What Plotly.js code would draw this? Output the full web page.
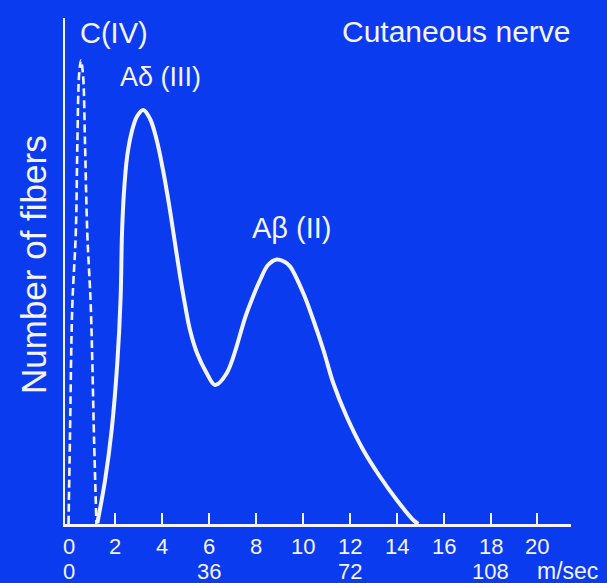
<!DOCTYPE html>
<html>
<head>
<meta charset="utf-8">
<script src="https://cdn.plot.ly/plotly-3.0.1.min.js"></script>
<style>
  html, body { margin: 0; padding: 0; background: #0b3bef; }
  #chart { width: 607px; height: 583px; }
</style>
</head>
<body>
<div id="chart"></div>
<script>
// Fiber diameter (μm) and relative number of fibers (arbitrary units)
const cFiberX = [0, 0.06, 0.16, 0.31, 0.38, 0.45, 0.53, 0.62, 0.70, 0.80, 0.95, 1.09, 1.19];
const cFiberY = [0, 16.8, 43.4, 58.2, 76.8, 89.8, 92.7, 89.8, 76.8, 58.2, 43.4, 16.8, 0];

const aFiberX = [1.23, 1.56, 1.84, 2.08, 2.22, 2.28, 2.36, 2.50, 2.70, 2.92, 3.19, 3.48, 3.76, 4.03, 4.29, 4.52, 4.75, 4.97, 5.18, 5.48, 5.89, 6.25, 6.75, 7.60, 8.17, 8.51, 8.88, 9.23, 9.45, 10.01, 10.44, 10.87, 11.29, 11.86, 12.57, 13.28, 14.00, 14.70, 14.92];
const aFiberY = [0.2, 8.8, 18.8, 32.2, 45.0, 58.0, 66.0, 73.5, 78.5, 81.5, 82.8, 81.0, 76.8, 70.8, 63.8, 56.8, 49.8, 43.8, 38.8, 34.2, 30.2, 27.8, 30.2, 42.2, 48.8, 51.8, 52.9, 52.4, 51.5, 46.2, 40.8, 34.8, 28.2, 21.5, 14.8, 9.5, 4.8, 0.8, 0];

// Axis tick labels
const diamTicks = [2, 4, 6, 8, 10, 12, 14, 16, 18, 20];
const diamLabelVals = [0, 2, 4, 6, 8, 10, 12, 14, 16, 18, 20];
const diamLabelText = ['0', '2', '4', '6', '8', '10', '12', '14', '16', '18', '20'];
const velLabelVals = [0, 6, 12, 18];
const velLabelText = ['0', '36', '72', '108'];

// Curve labels
const curveLabels = ['C(IV)', 'Aδ (III)', 'Aβ (II)', 'Cutaneous nerve'];
const curveLabelX = [1.96, 3.94, 9.52, 16.55];
const curveLabelY = [98.2, 89.4, 59.2, 98.6];
const curveLabelSize = [29, 27, 29, 30];

const FONT = 'Liberation Sans, Arial, sans-serif';
const WHITE = '#f4f4f4';

const traces = [
  {
    x: cFiberX, y: cFiberY, type: 'scatter', mode: 'lines',
    line: { color: WHITE, width: 2.6, dash: '8px,4px', shape: 'spline', smoothing: 1 },
    hoverinfo: 'skip'
  },
  {
    x: aFiberX, y: aFiberY, type: 'scatter', mode: 'lines',
    line: { color: WHITE, width: 4, shape: 'spline', smoothing: 1 },
    hoverinfo: 'skip'
  }
];

const annotations = [];
diamLabelVals.forEach((v, i) => annotations.push({
  x: v, y: 0, xref: 'x', yref: 'paper', yanchor: 'middle', xanchor: 'center',
  yshift: -22, text: diamLabelText[i], showarrow: false,
  font: { family: FONT, size: 22, color: WHITE }
}));
annotations.push({
  x: 22.0, y: 0, xref: 'x', yref: 'paper', yanchor: 'middle', xanchor: 'center',
  yshift: -22, text: 'μm', showarrow: false,
  font: { family: FONT, size: 23, color: WHITE }
});
velLabelVals.forEach((v, i) => annotations.push({
  x: v, y: 0, xref: 'x', yref: 'paper', yanchor: 'middle', xanchor: 'center',
  yshift: -47, text: velLabelText[i], showarrow: false,
  font: { family: FONT, size: 22, color: WHITE }
}));
annotations.push({
  x: 21.28, y: 0, xref: 'x', yref: 'paper', yanchor: 'middle', xanchor: 'center',
  yshift: -47, text: 'm/sec', showarrow: false,
  font: { family: FONT, size: 23, color: WHITE }
});
curveLabels.forEach((t, i) => annotations.push({
  x: curveLabelX[i], y: curveLabelY[i], xref: 'x', yref: 'y',
  xanchor: 'center', yanchor: 'middle', text: t, showarrow: false,
  font: { family: FONT, size: curveLabelSize[i], color: WHITE }
}));
annotations.push({
  x: 0, y: 0.5, xref: 'paper', yref: 'paper', xanchor: 'center', yanchor: 'middle',
  xshift: -32, yshift: 6, textangle: -90, text: 'Number of fibers', showarrow: false,
  font: { family: FONT, size: 35, color: WHITE }
});

const layout = {
  width: 607, height: 583,
  margin: { l: 65, r: 36, t: 18, b: 59 },
  paper_bgcolor: '#0b3bef',
  plot_bgcolor: '#0b3bef',
  showlegend: false,
  xaxis: {
    range: [-0.15, 21.43], showgrid: false, zeroline: false,
    showline: true, linecolor: WHITE, linewidth: 3,
    tickmode: 'array', tickvals: diamTicks, ticks: 'inside', ticklen: 11,
    tickwidth: 2, tickcolor: WHITE, showticklabels: false, fixedrange: true
  },
  yaxis: {
    range: [0, 101.2], showgrid: false, zeroline: false,
    showline: true, linecolor: WHITE, linewidth: 2,
    ticks: '', showticklabels: false, fixedrange: true
  },
  annotations: annotations
};

Plotly.newPlot('chart', traces, layout, { displayModeBar: false, staticPlot: true });
</script>
</body>
</html>
